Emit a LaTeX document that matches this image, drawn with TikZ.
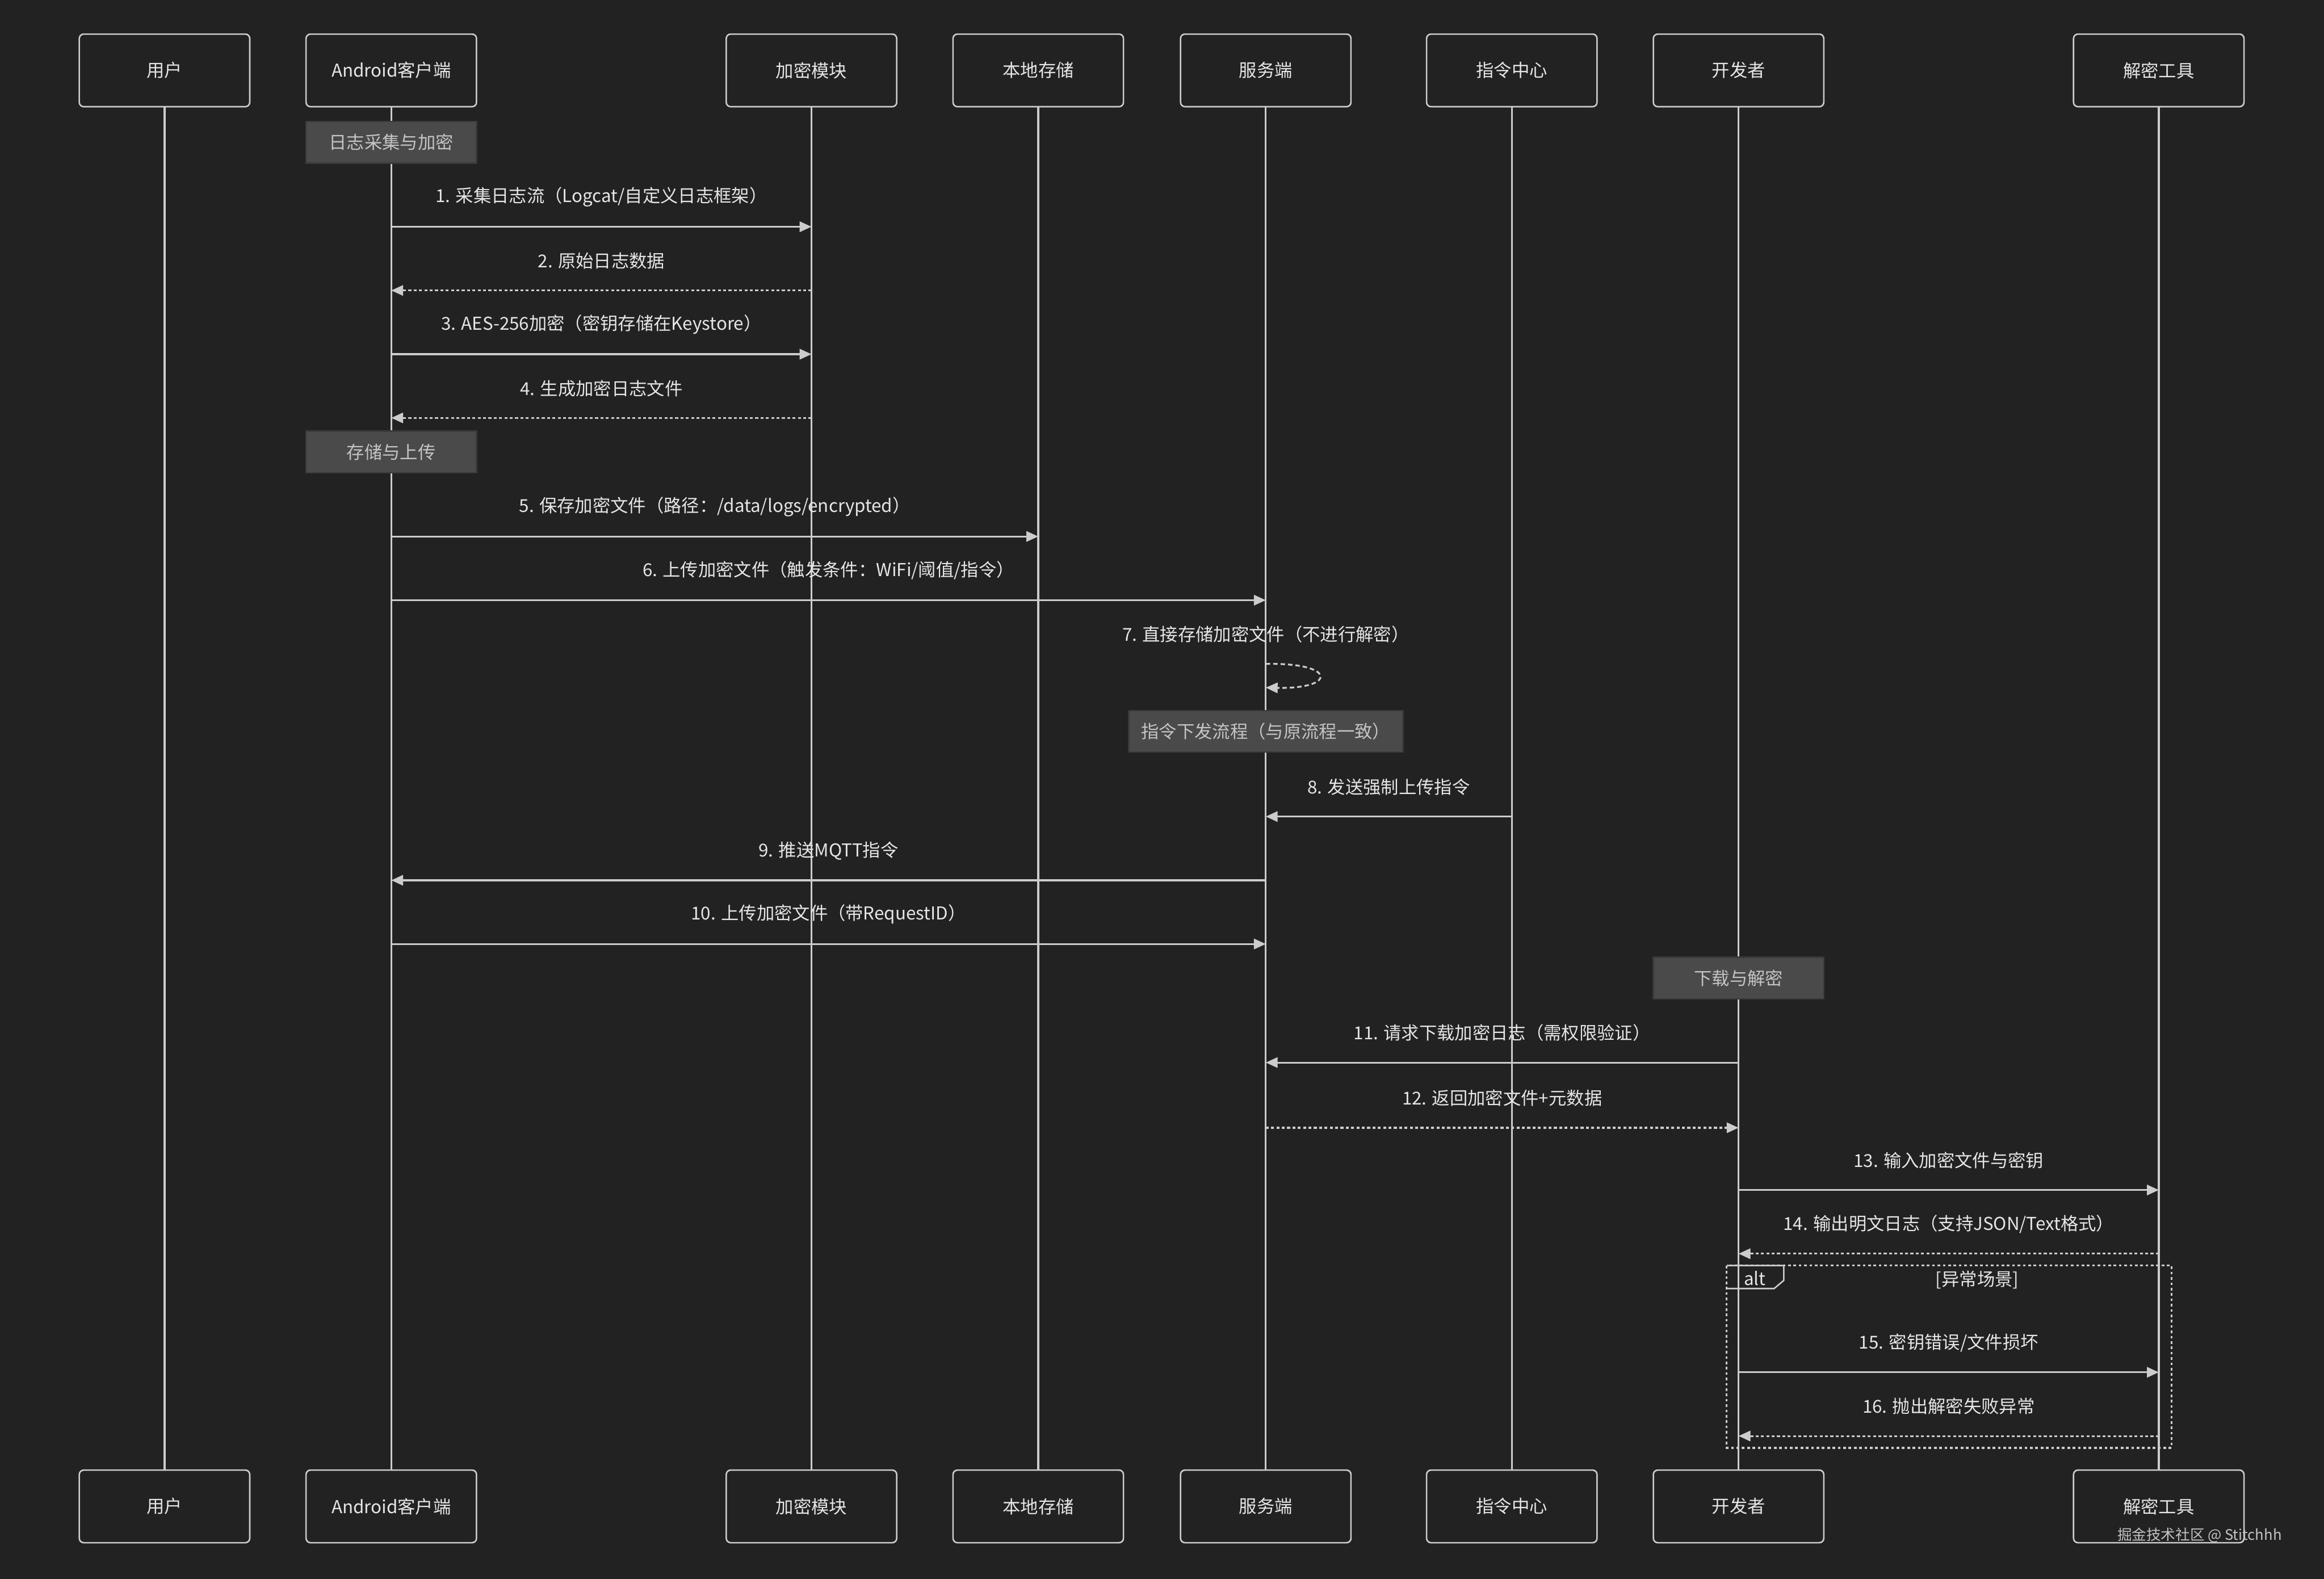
\documentclass[tikz,border=0pt]{standalone}
\usepackage{fontspec}
\setmainfont{Noto Sans CJK SC}
\usetikzlibrary{arrows.meta,positioning,calc}
\definecolor{bgdark}{HTML}{222222}
\definecolor{linegray}{HTML}{CCCCCC}
\definecolor{textgray}{HTML}{E6E6E6}
\definecolor{notefill}{HTML}{4A4A4A}
\definecolor{noteline}{HTML}{3A3A3A}
\definecolor{notetext}{HTML}{C4C4C4}

\begin{document}
\begin{tikzpicture}[x=1pt,y=-1pt,
  every node/.style={font=\fontsize{12}{14}\selectfont,text=textgray,align=center},
  actor/.style={draw=linegray,line width=1pt,rounded corners=3pt,fill=bgdark,minimum width=115pt,minimum height=49pt,inner sep=0pt},
  lifeline/.style={draw=linegray,line width=1.3pt},
  notebox/.style={draw=noteline,line width=1pt,fill=notefill,text=notetext,minimum height=28pt,inner sep=0pt},
  call/.style={draw=linegray,line width=1.2pt,-{Triangle[length=8pt,width=7pt]}},
  reply/.style={call,dash pattern=on 2pt off 1.6pt},
  msg/.style={midway,yshift=20pt},
  altframe/.style={draw=linegray,line width=1.2pt,dash pattern=on 1.8pt off 1.8pt}]
\fill[bgdark] (0,0) rectangle (1568,1065.5);
\useasboundingbox (0,0) rectangle (1568,1065.5);

% participants and lifelines
\foreach \id/\px/\name in {user/111/用户,app/264/Android客户端,crypto/547.5/加密模块,store/700.5/本地存储,server/854/服务端,cmd/1020/指令中心,dev/1173/开发者,tool/1456.5/解密工具}{
  \node[actor] (\id-top) at (\px,47.5) {\name};
  \node[actor] (\id-bot) at (\px,1016.5) {\name};
  \draw[lifeline] (\id-top) -- (\id-bot);
}

% notes
\node[notebox,minimum width=115pt] (collect) at (app-top|-0,96) {日志采集与加密};
\node[notebox,minimum width=115pt] (upload) at (app-top|-0,305) {存储与上传};
\node[notebox,minimum width=185pt] (dispatch) at (server-top|-0,493.5) {指令下发流程（与原流程一致）};
\node[notebox,minimum width=115pt] (decrypt) at (dev-top|-0,660) {下载与解密};

% messages
\foreach \src/\dst/\y/\kind/\txt in {
  app/crypto/153/call/{1. 采集日志流（Logcat/自定义日志框架）},
  crypto/app/196/reply/{2. 原始日志数据},
  app/crypto/239/call/{3. AES-256加密（密钥存储在Keystore）},
  crypto/app/282/reply/{4. 生成加密日志文件},
  app/store/362/call/{5. 保存加密文件（路径：/data/logs/encrypted）},
  app/server/405/call/{6. 上传加密文件（触发条件：WiFi/阈值/指令）},
  cmd/server/551/call/{8. 发送强制上传指令},
  server/app/594/call/{9. 推送MQTT指令},
  app/server/637/call/{10. 上传加密文件（带RequestID）},
  dev/server/717/call/{11. 请求下载加密日志（需权限验证）},
  server/dev/761/reply/{12. 返回加密文件+元数据},
  dev/tool/803/call/{13. 输入加密文件与密钥},
  tool/dev/846/reply/{14. 输出明文日志（支持JSON/Text格式）},
  dev/tool/926/call/{15. 密钥错误/文件损坏},
  tool/dev/969/reply/{16. 抛出解密失败异常}}{
  \draw[\kind] (\src-top|-0,\y) -- node[msg] {\txt} (\dst-top|-0,\y);
}

% self message
\node (selfstore) at (server-top|-0,428) {7. 直接存储加密文件（不进行解密）};
\draw[call,dash pattern=on 3pt off 2pt] (server-top|-0,448) .. controls (902,447) and (902,465) .. (server-top|-0,464);

% alt block
\draw[altframe] (1165,854) rectangle (1465,977);
\draw[draw=linegray,line width=1pt] (1165,854) -- (1203.5,854) -- (1203.5,864) -- (1197,869.5) -- (1165,869.5);
\node (alttag) at (1184,862.5) {alt};
\node (altcond) at (1334,863.5) {[异常场景]};

\node[anchor=east,font=\fontsize{9.8}{11}\selectfont,text=notetext] (mark) at (1543,1036) {掘金技术社区 @ Stitchhh};
\end{tikzpicture}
\end{document}
